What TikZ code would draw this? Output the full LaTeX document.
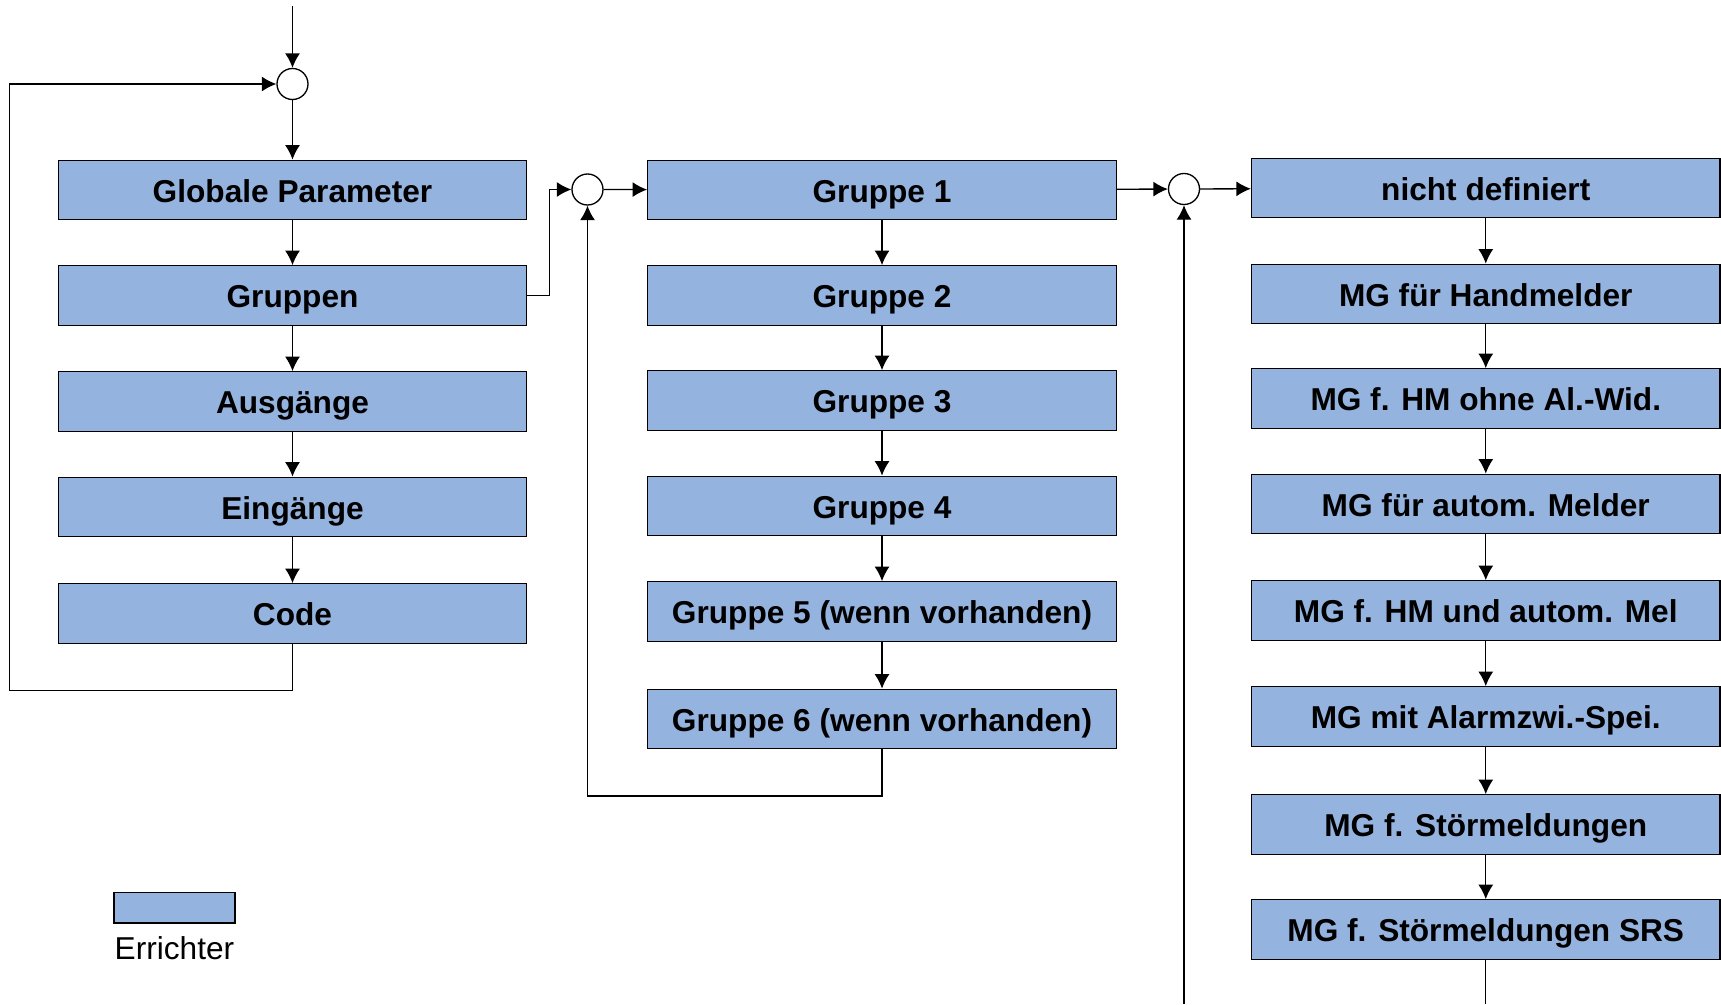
\documentclass[tikz,border=0pt]{standalone}
\usepackage{fontspec}
\setsansfont{Liberation Sans}
\usetikzlibrary{arrows.meta}
\definecolor{boxblue}{HTML}{95B3DF}
\begin{document}
\begin{tikzpicture}[
		font=\sffamily,
		line width=0.75pt,
		every node/.style={
				font=\sffamily\fontsize{18}{21}\selectfont,
			},
		menubox/.style={draw, fill=boxblue, minimum width=9.37cm, minimum height=1.19cm, inner sep=0pt,
				text height=0.6cm, text depth=0.12cm,
				font=\sffamily\bfseries\fontsize{18}{21}\selectfont},
		junction/.style={draw, fill=white, circle, minimum size=0.62cm, inner sep=0pt},
		flow/.style={-{Latex[length=0.29cm,width=0.3cm]}},
	]
	\useasboundingbox (0,0) rectangle (34.42,-20.08);
	% left column
	\foreach \n/\t/\y in {a1/Globale Parameter/3.80, a2/Gruppen/5.91, a3/Ausgänge/8.03, a4/Eingänge/10.14, a5/Code/12.27} {
			\node[menubox] (\n) at (5.85,-\y) {\t};
		}
	% middle column
	\foreach \n/\t/\y in {b1/Gruppe 1/3.80, b2/Gruppe 2/5.91, b3/Gruppe 3/8.01, b4/Gruppe 4/10.12,
			b5/Gruppe 5 (wenn vorhanden)/12.23, b6/Gruppe 6 (wenn vorhanden)/14.38} {
			\node[menubox] (\n) at (17.64,-\y) {\t};
		}
	% right column
	\foreach \n/\t/\y in {r1/nicht definiert/3.76, r2/MG für Handmelder/5.88, r3/MG f. HM ohne Al.-Wid./7.97,
			r4/MG für autom. Melder/10.08, r5/MG f. HM und autom. Mel/12.21, r6/MG mit Alarmzwi.-Spei./14.33,
			r7/MG f. Störmeldungen/16.49, r8/MG f. Störmeldungen SRS/18.59} {
			\node[menubox] (\n) at (29.715,-\y) {\t};
		}
	% junctions
	\node[junction] (c1) at (5.85,-1.68) {};
	\node[junction] (c2) at (11.75,-3.79) {};
	\node[junction] (c3) at (23.68,-3.78) {};
	\coordinate (start) at (5.85,-0.12);
	\coordinate (loopA) at (0.19,-13.81);
	\coordinate (loopB) at (11.75,-15.92);
	\coordinate (botC) at (23.68,-20.08);
	\coordinate (botR) at (29.715,-20.08);
	% connectors
	\draw [flow] (start) -- (c1);
	\draw [flow] (c1) -- (a1);
	\foreach \i/\j in {1/2,2/3,3/4,4/5} {
			\draw [flow] (a\i) -- (a\j);
		}
	\draw [flow] (a5.south) |- (loopA) |- (c1);
	\draw [flow] (a2.east) -- ++(0.445,0) |- (c2);
	\draw [flow] (c2) -- (b1);
	\foreach \i/\j in {1/2,2/3,3/4,4/5,5/6} {
			\draw [flow] (b\i) -- (b\j);
		}
	\draw [flow] (b6.south) |- (loopB) -- (c2);
	\draw [flow] (b1) -- (c3);
	\draw [flow] (c3) -- (r1);
	\draw [flow] (botC) -- (c3);
	\foreach \i/\j in {1/2,2/3,3/4,4/5,5/6,6/7,7/8} {
			\draw [flow] (r\i) -- (r\j);
		}
	\draw (r8.south) -- (botR);
	% legend
	\node[draw, fill=boxblue, minimum width=2.42cm, minimum height=0.61cm, inner sep=0pt] (legbox) at (3.49,-18.155) {};
	\node (legtext) at (3.49,-18.97) {Errichter};
\end{tikzpicture}
\end{document}
